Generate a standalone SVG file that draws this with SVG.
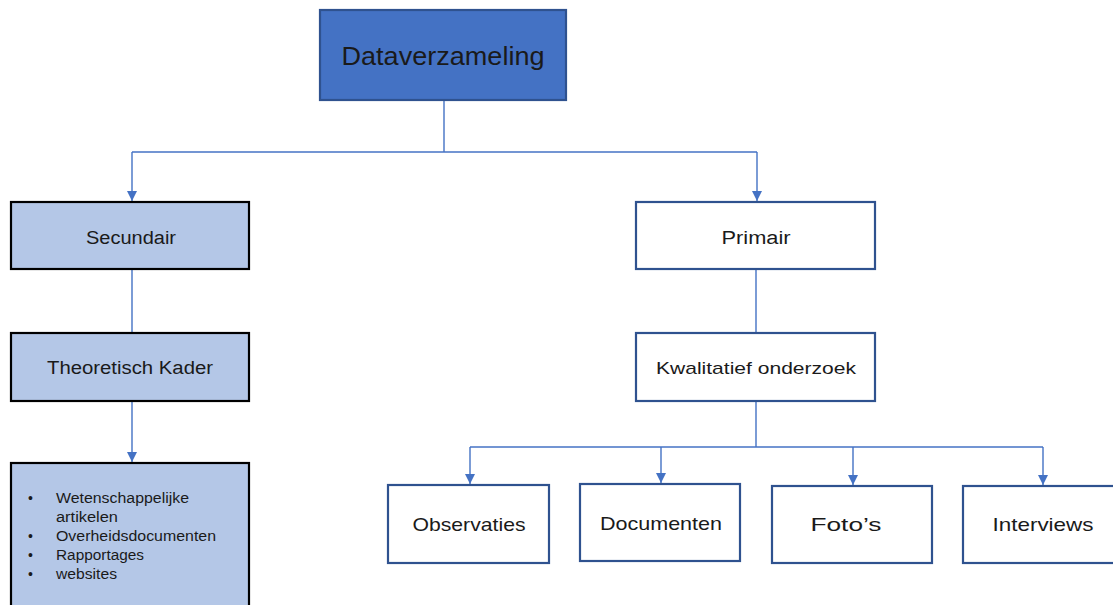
<svg xmlns="http://www.w3.org/2000/svg" width="1113" height="605" viewBox="0 0 1113 605">
<style>
.c{fill:none;stroke:#4472C4;stroke-width:1.4}
.lb{fill:#B4C7E7;stroke:#000;stroke-width:2.2}
.wb{fill:#fff;stroke:#2F528F;stroke-width:2.2}
.t{font-family:"Liberation Sans",Arial,sans-serif;fill:#1a1a1a;text-anchor:middle}
.s{font-family:"Liberation Sans",Arial,sans-serif;fill:#1a1a1a;font-size:14px}
</style>
<defs>
<marker id="a" viewBox="0 0 10 10" refX="10" refY="5" markerWidth="10" markerHeight="10" orient="auto" markerUnits="userSpaceOnUse">
<path d="M0,0 L10,5 L0,10 Z" fill="#4472C4"/>
</marker>
</defs>
<rect width="1113" height="605" fill="#fff"/>
<g id="connectors">
<path class="c" d="M444,100 V152"/>
<path class="c" d="M132,152 H757"/>
<path class="c" d="M132,152 V201" marker-end="url(#a)"/>
<path class="c" d="M757,152 V201" marker-end="url(#a)"/>
<path class="c" d="M132,269 V333"/>
<path class="c" d="M132,401 V462" marker-end="url(#a)"/>
<path class="c" d="M756,269 V333"/>
<path class="c" d="M756,401 V447"/>
<path class="c" d="M470,447 H1043"/>
<path class="c" d="M470,447 V484" marker-end="url(#a)"/>
<path class="c" d="M661,447 V483" marker-end="url(#a)"/>
<path class="c" d="M853,447 V485" marker-end="url(#a)"/>
<path class="c" d="M1043,447 V485" marker-end="url(#a)"/>
</g>
<g id="dataverzameling">
<rect x="320" y="10" width="246" height="90" fill="#4472C4" stroke="#2F528F" stroke-width="2.2"/>
<text class="t" x="443" y="65" font-size="25" textLength="203" lengthAdjust="spacingAndGlyphs">Dataverzameling</text>
</g>
<g id="secundair">
<rect class="lb" x="11" y="202" width="238" height="67"/>
<text class="t" x="131" y="244" font-size="18" textLength="90" lengthAdjust="spacingAndGlyphs">Secundair</text>
</g>
<g id="primair">
<rect class="wb" x="636" y="202" width="239" height="67"/>
<text class="t" x="756" y="244" font-size="18" textLength="69" lengthAdjust="spacingAndGlyphs">Primair</text>
</g>
<g id="theoretisch-kader">
<rect class="lb" x="11" y="333" width="238" height="68"/>
<text class="t" x="130" y="374" font-size="18" textLength="166" lengthAdjust="spacingAndGlyphs">Theoretisch Kader</text>
</g>
<g id="kwalitatief-onderzoek">
<rect class="wb" x="636" y="333" width="239" height="68"/>
<text class="t" x="756" y="374" font-size="17" textLength="200" lengthAdjust="spacingAndGlyphs">Kwalitatief onderzoek</text>
</g>
<g id="bronnen">
<rect class="lb" x="11" y="463" width="238" height="150"/>
<text class="s" x="28" y="503">•</text>
<text class="s" x="56" y="503" textLength="133" lengthAdjust="spacingAndGlyphs">Wetenschappelijke</text>
<text class="s" x="56" y="522" textLength="62" lengthAdjust="spacingAndGlyphs">artikelen</text>
<text class="s" x="28" y="541">•</text>
<text class="s" x="56" y="541" textLength="160" lengthAdjust="spacingAndGlyphs">Overheidsdocumenten</text>
<text class="s" x="28" y="560">•</text>
<text class="s" x="56" y="560" textLength="88" lengthAdjust="spacingAndGlyphs">Rapportages</text>
<text class="s" x="28" y="579">•</text>
<text class="s" x="56" y="579" textLength="61" lengthAdjust="spacingAndGlyphs">websites</text>
</g>
<g id="observaties">
<rect class="wb" x="388" y="485" width="161" height="78"/>
<text class="t" x="469" y="531" font-size="19" textLength="113" lengthAdjust="spacingAndGlyphs">Observaties</text>
</g>
<g id="documenten">
<rect class="wb" x="580" y="484" width="160" height="77"/>
<text class="t" x="661" y="530" font-size="19" textLength="122" lengthAdjust="spacingAndGlyphs">Documenten</text>
</g>
<g id="fotos">
<rect class="wb" x="772" y="486" width="160" height="77"/>
<text class="t" x="846" y="531" font-size="19" textLength="71" lengthAdjust="spacingAndGlyphs">Foto’s</text>
</g>
<g id="interviews">
<rect class="wb" x="963" y="486" width="160" height="77"/>
<text class="t" x="1043" y="531" font-size="19" textLength="101" lengthAdjust="spacingAndGlyphs">Interviews</text>
</g>
</svg>
